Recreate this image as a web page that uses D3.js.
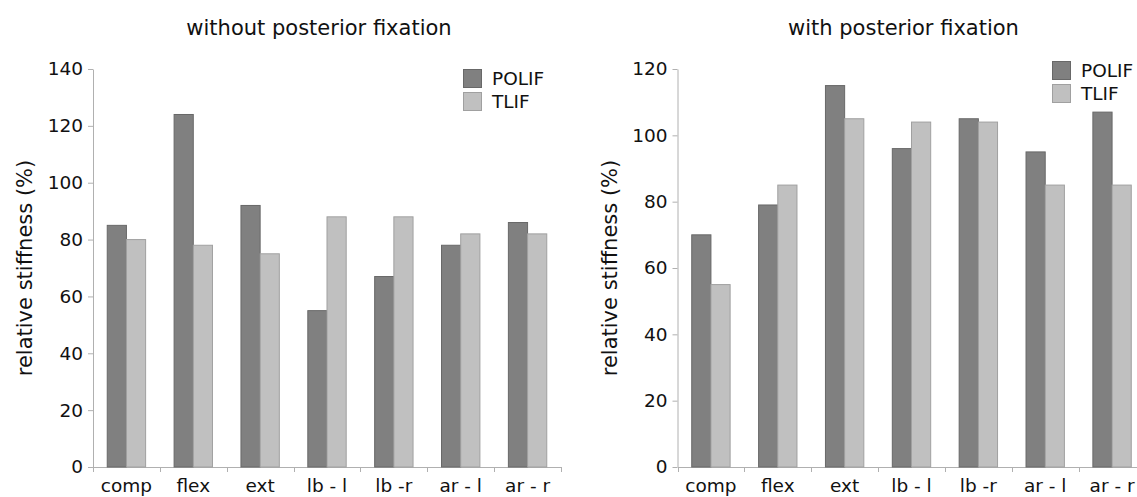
<!DOCTYPE html>
<html>
<head>
<meta charset="utf-8">
<script src="https://cdn.jsdelivr.net/npm/d3@7"></script>
<style>
  body { margin: 0; background: #fff; }
  svg { display: block; font-family: "DejaVu Sans", sans-serif; }
</style>
</head>
<body>
<div id="chart"></div>
<script>
// categories and values
var categories = ["comp", "flex", "ext", "lb - l", "lb -r", "ar - l", "ar - r"];
var seriesNames = ["POLIF", "TLIF"];

var polifWithout = [85, 124, 92, 55, 67, 78, 86];
var tlifWithout  = [80, 78, 75, 88, 88, 82, 82];
var polifWith    = [70, 79, 115, 96, 105, 95, 107];
var tlifWith     = [55, 85, 105, 104, 104, 85, 85];

var ticksWithout = [0, 20, 40, 60, 80, 100, 120, 140];
var ticksWith    = [0, 20, 40, 60, 80, 100, 120];

var colors  = ["#808080", "#c0c0c0"];
var strokes = ["#686868", "#a0a0a0"];
var axisColor = "#b0b0b0";

var svg = d3.select("#chart")
  .append("svg")
  .attr("width", 1137)
  .attr("height", 497);

// draws one of the two panels
function drawPanel(opts) {
  var left = opts.left, right = opts.right, top = 69, bottom = 467;
  var g = svg.append("g");

  var x = d3.scaleBand()
    .domain(categories)
    .range([left, right])
    .paddingInner(0.426)
    .paddingOuter(0.213);

  var y = d3.scaleLinear()
    .domain([0, d3.max(opts.ticks)])
    .range([bottom, top]);

  var rows = categories.map(function(c, i) {
    return {cat: c, vals: [opts.polif[i], opts.tlif[i]]};
  });

  // y axis
  var yAxis = g.append("g")
    .attr("transform", "translate(" + left + ",0)")
    .call(d3.axisLeft(y).tickValues(opts.ticks).tickSize(5).tickSizeOuter(0).tickPadding(5));
  yAxis.selectAll("path, line").attr("stroke", axisColor);
  yAxis.selectAll("text")
    .attr("font-size", 18.5)
    .attr("fill", "#111")
    .attr("font-family", "DejaVu Sans, sans-serif");

  // x axis, labels under the bands, ticks at band boundaries
  var xAxis = g.append("g")
    .attr("transform", "translate(0," + bottom + ")")
    .call(d3.axisBottom(x).tickSize(0).tickSizeOuter(0).tickPadding(12));
  xAxis.select("path").attr("stroke", axisColor);
  xAxis.selectAll("text")
    .attr("font-size", 18.5)
    .attr("fill", "#111")
    .attr("font-family", "DejaVu Sans, sans-serif");

  var bounds = categories.map(function(c) { return x(c) - x.step() * x.paddingOuter(); });
  bounds.push(right);
  g.selectAll("line.bound")
    .data(bounds)
    .enter().append("line")
    .attr("class", "bound")
    .attr("x1", function(d) { return Math.round(d) + 0.5; })
    .attr("x2", function(d) { return Math.round(d) + 0.5; })
    .attr("y1", bottom)
    .attr("y2", bottom + 5)
    .attr("stroke", axisColor);

  // bars
  var bw = x.bandwidth() / 2;
  var groups = g.selectAll("g.cat")
    .data(rows)
    .enter().append("g")
    .attr("class", "cat");

  groups.selectAll("rect")
    .data(function(d) { return d.vals.map(function(v, k) { return {cat: d.cat, v: v, k: k}; }); })
    .enter().append("rect")
    .attr("x", function(d) { return x(d.cat) + d.k * bw; })
    .attr("y", function(d) { return y(d.v); })
    .attr("width", bw)
    .attr("height", function(d) { return y(0) - y(d.v); })
    .attr("fill", function(d) { return colors[d.k]; })
    .attr("stroke", function(d) { return strokes[d.k]; })
    .attr("stroke-width", 1);

  // title
  svg.append("text")
    .text(opts.title)
    .attr("x", left + 226)
    .attr("y", 35)
    .attr("text-anchor", "middle")
    .attr("font-size", 21)
    .attr("fill", "#111");

  // y axis label
  svg.append("text")
    .text("relative stiffness (%)")
    .attr("transform", "translate(" + (left - 61) + "," + ((top + bottom) / 2) + ") rotate(-90)")
    .attr("text-anchor", "middle")
    .attr("font-size", 21)
    .attr("fill", "#111");

  // legend
  var leg = svg.append("g")
    .attr("transform", "translate(" + opts.legX + "," + opts.legY + ")");
  seriesNames.forEach(function(name, k) {
    leg.append("rect")
      .attr("x", 0.5)
      .attr("y", k * 23 + 0.5)
      .attr("width", 18)
      .attr("height", 18)
      .attr("fill", colors[k])
      .attr("stroke", strokes[k]);
    leg.append("text")
      .text(name)
      .attr("x", 29)
      .attr("y", k * 23 + 16)
      .attr("font-size", 18.5)
      .attr("fill", "#111");
  });
}

drawPanel({
  title: "without posterior fixation",
  left: 93, right: 561,
  polif: polifWithout, tlif: tlifWithout,
  ticks: ticksWithout,
  legX: 463, legY: 69
});

drawPanel({
  title: "with posterior fixation",
  left: 677.5, right: 1145.5,
  polif: polifWith, tlif: tlifWith,
  ticks: ticksWith,
  legX: 1052, legY: 61
});
</script>
</body>
</html>
